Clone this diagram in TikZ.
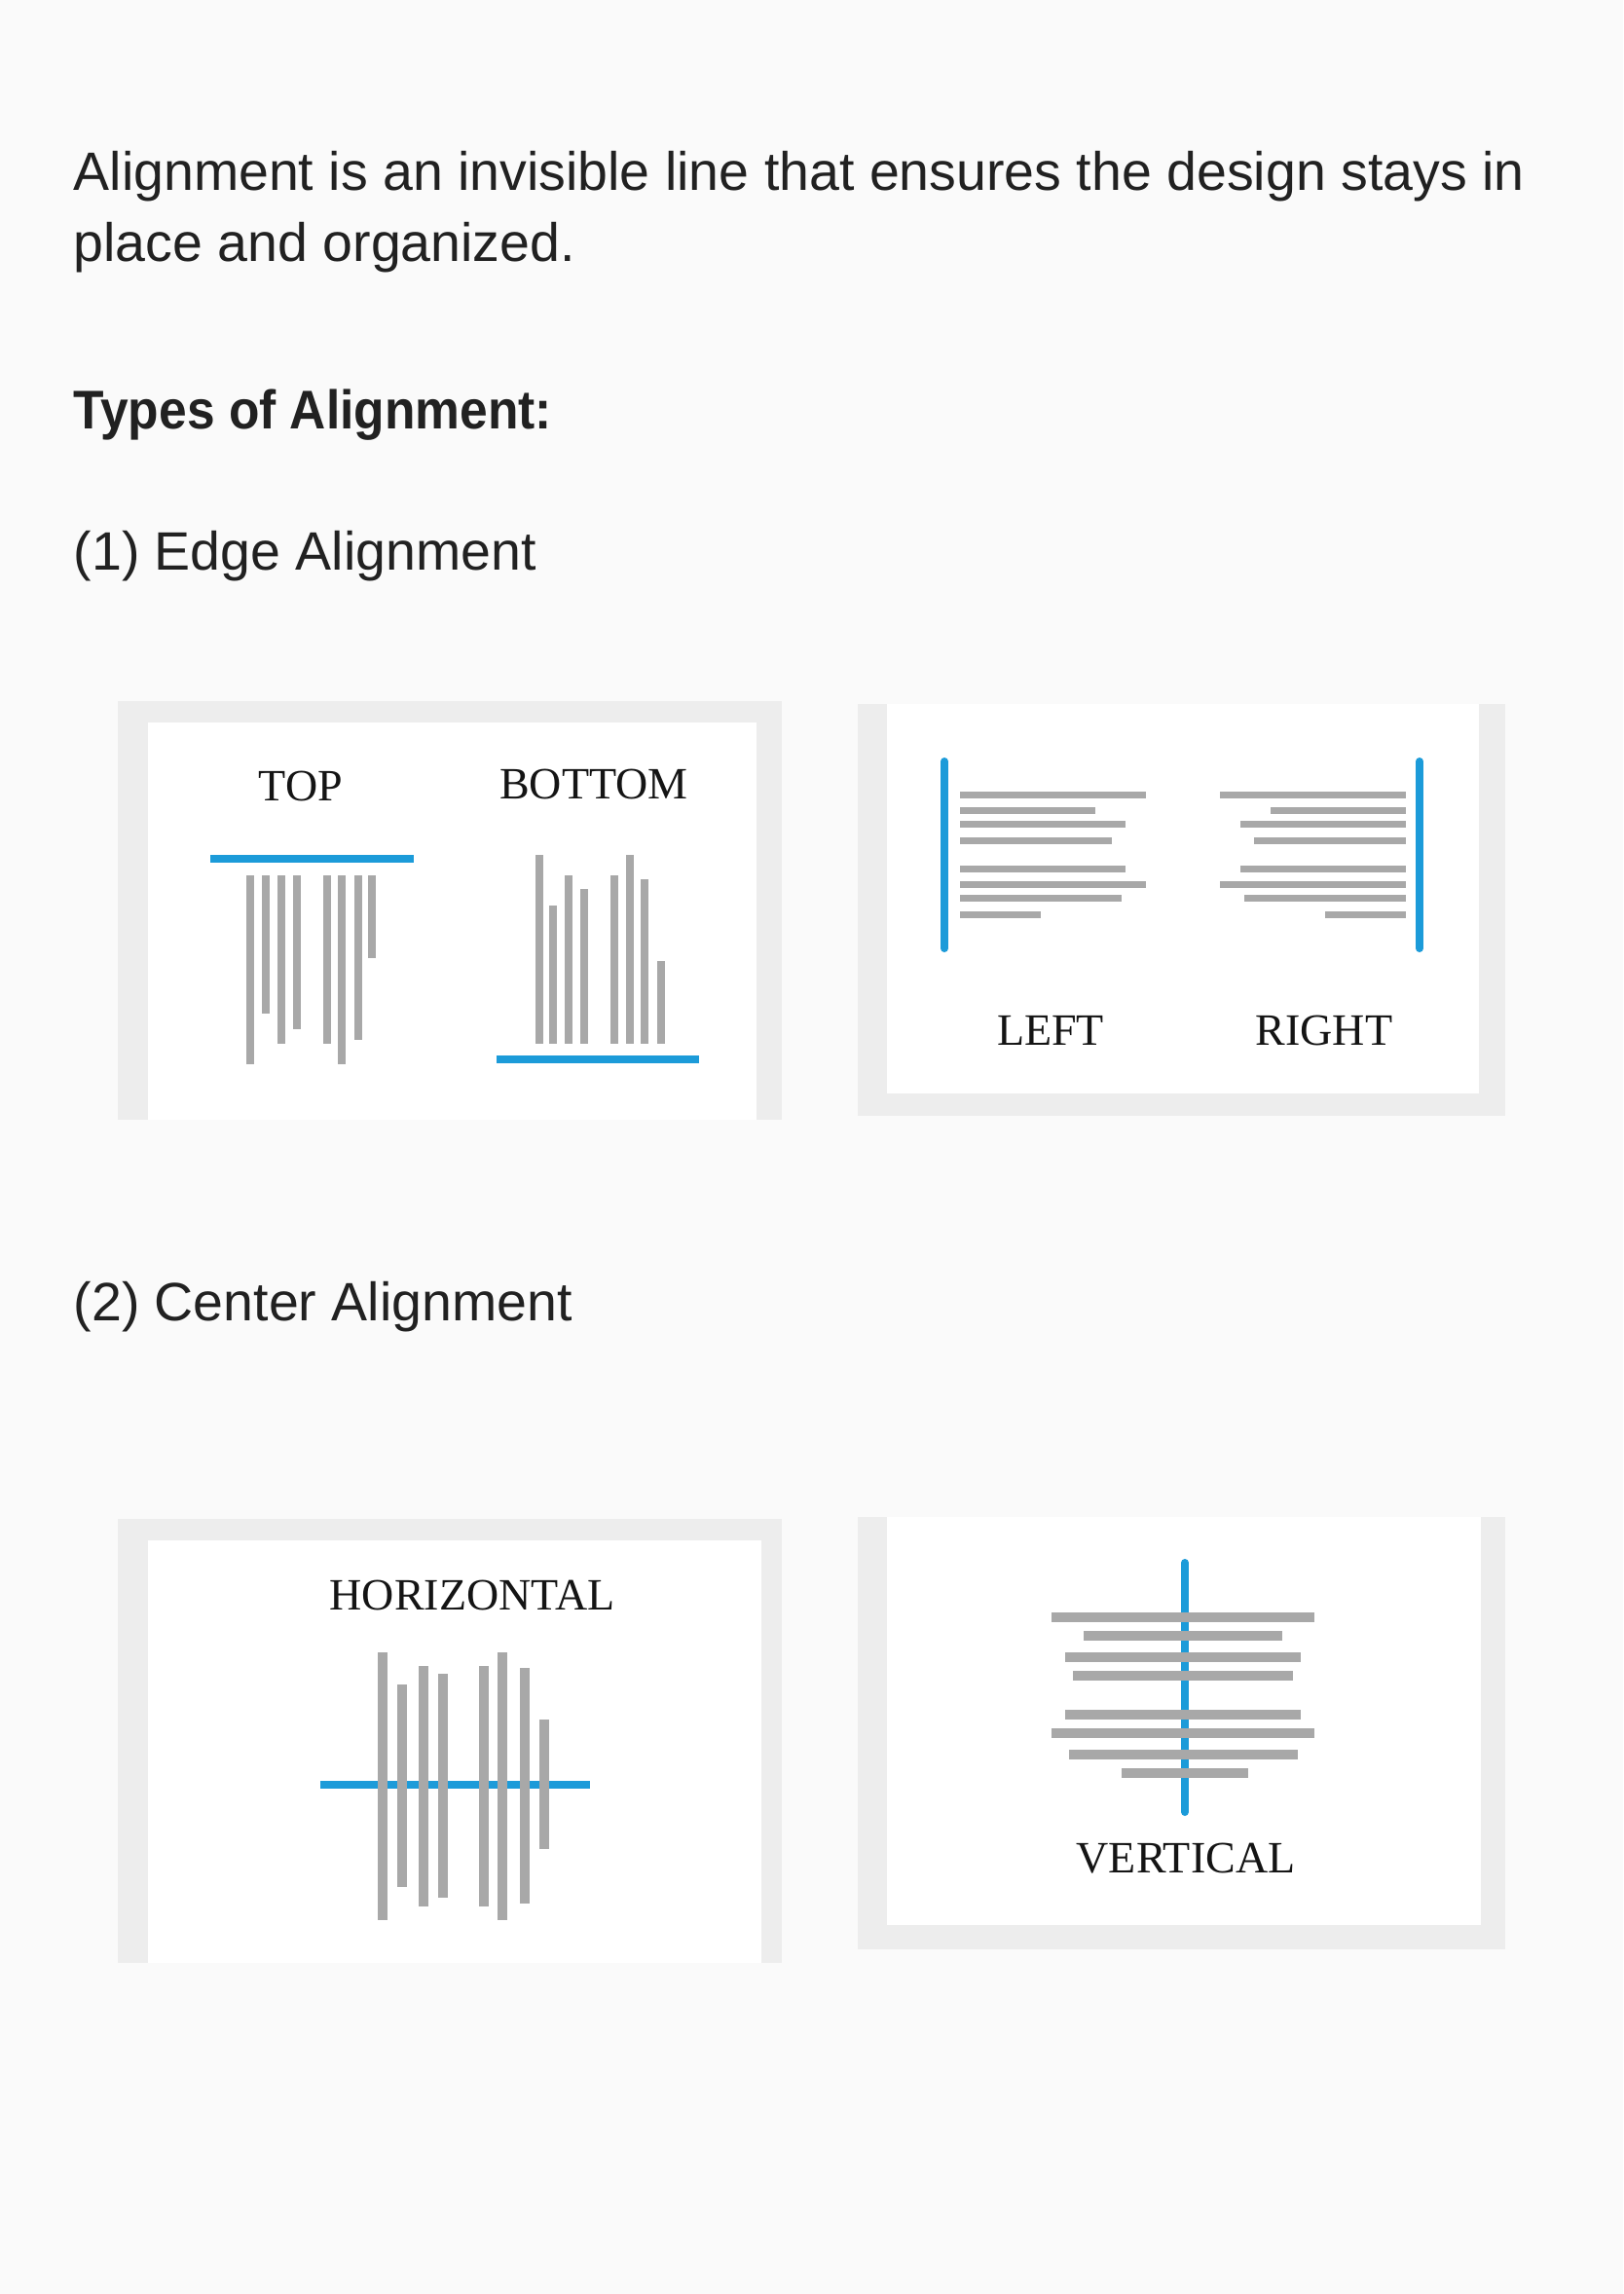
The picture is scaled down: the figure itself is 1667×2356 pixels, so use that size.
\documentclass[tikz,border=0pt]{standalone}
\usepackage{fontspec}
\setmainfont{Liberation Sans}
\newfontfamily\labelfont{Liberation Serif}
\definecolor{pagebg}{RGB}{250,250,250}
\definecolor{framegray}{RGB}{237,237,237}
\definecolor{ink}{RGB}{33,33,33}
\definecolor{accent}{RGB}{28,155,217}
\definecolor{bargray}{RGB}{168,168,168}
\begin{document}
\begin{tikzpicture}[x=0.3pt,y=-0.3pt,
  body/.style={anchor=base west, inner sep=0pt, text=ink, font=\fontsize{16.65}{20}\selectfont},
  heading/.style={body, font=\fontsize{16.8}{20}\selectfont\bfseries},
  caption/.style={anchor=base, inner sep=0pt, text=black!92, font=\labelfont\fontsize{13.8}{16}\selectfont},
  guide/.style={draw=accent, line width=2.4pt},
  vbar/.style={draw=bargray, line width=2.4pt},
  hbar/.style={draw=bargray, line width=2.1pt},
  widebar/.style={draw=bargray, line width=3pt},
  frame/.style={fill=framegray},
  card/.style={fill=white}]
\fill[pagebg] (0,0) rectangle (1667,2356);
\useasboundingbox (0,0) rectangle (1667,2356);

% introductory text
\node[body] (intro1) at (75,195) {Alignment is an invisible line that ensures the design stays in};
\node[body] (intro2) at (75,268) {place and organized.};
\node[heading] (types) at (75,440) {\scalebox{0.92}[1]{Types of Alignment:}};
\node[body] (edge) at (75,585) {(1) Edge Alignment};
\node[body] (center) at (75,1356) {(2) Center Alignment};

% card 1: top / bottom
\fill[frame] (121,720) rectangle (803,1150);
\fill[card] (152,742) rectangle (777,1150);
\node[caption] (top) at (309,822) {TOP};
\node[caption] (bottom) at (610,820) {BOTTOM};
\draw[guide] (216,882) -- (425,882);
\foreach \x/\b in {257/1093,273/1041,289/1072,305/1057,336/1072,351/1093,368/1068,382/984}
  \draw[vbar] (\x,899) -- (\x,\b);
\foreach \x/\t in {554/878,568/930,584/899,600/913,631/899,647/878,662/903,679/987}
  \draw[vbar] (\x,\t) -- (\x,1072);
\draw[guide] (510,1088) -- (718,1088);

% card 2: left / right
\fill[frame] (881,723) rectangle (1546,1146);
\fill[card] (911,723) rectangle (1519,1123);
\draw[guide, line cap=round] (970,782) -- (970,974);
\foreach \y/\r in {816/1177,832/1125,846/1156,863/1142,892/1156,908/1177,922/1152,939/1069}
  \draw[hbar] (986,\y) -- (\r,\y);
\draw[guide, line cap=round] (1458,782) -- (1458,974);
\foreach \y/\l in {816/1253,832/1305,846/1274,863/1288,892/1274,908/1253,922/1278,939/1361}
  \draw[hbar] (\l,\y) -- (1444,\y);
\node[caption] (left) at (1079,1073) {LEFT};
\node[caption] (right) at (1360,1073) {RIGHT};

% card 3: horizontal
\fill[frame] (121,1560) rectangle (803,2016);
\fill[card] (152,1582) rectangle (782,2016);
\node[caption] (horizontal) at (485,1653) {HORIZONTAL};
\draw[guide] (329,1833) -- (606,1833);
\foreach \x/\t/\b in {393/1697/1972,413/1730/1938,435/1711/1958,455/1719/1949,497/1711/1958,516/1697/1972,539/1713/1955,559/1766/1899}
  \draw[vbar, line width=3pt] (\x,\t) -- (\x,\b);

% card 4: vertical
\fill[frame] (881,1558) rectangle (1546,2002);
\fill[card] (911,1558) rectangle (1521,1977);
\draw[guide, line cap=round] (1217,1605) -- (1217,1861);
\foreach \y/\l/\r in {1661/1080/1350,1680/1113/1317,1702/1094/1336,1721/1102/1328,1761/1094/1336,1780/1080/1350,1802/1098/1333,1821/1152/1282}
  \draw[widebar] (\l,\y) -- (\r,\y);
\node[caption] (vertical) at (1218,1923) {VERTICAL};
\end{tikzpicture}
\end{document}
